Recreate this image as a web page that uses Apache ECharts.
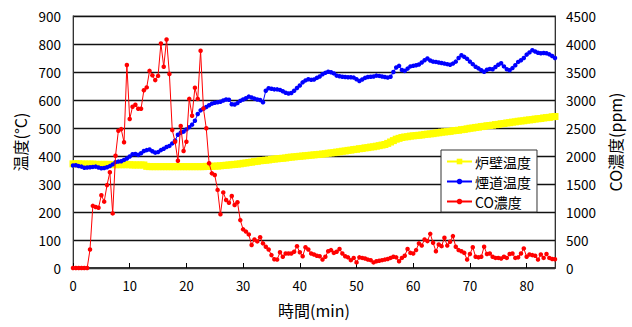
<!DOCTYPE html>
<html>
<head>
<meta charset="utf-8">
<script src="https://cdn.jsdelivr.net/npm/echarts@6/dist/echarts.min.js"></script>
<style>
html,body{margin:0;padding:0;background:#fff;}
#chart{width:632px;height:327px;}
</style>
</head>
<body>
<div id="chart"></div>
<script>
// sampling interval of the measurements (min)
const TIME_STEP = 0.5;

// 炉壁温度 (°C), every 0.5 min from 0 to 85
const wallTemp = [
  372,372,372,371,371,371,371,371,370,370,
  370,370,370,370,369,369,369,369,369,369,
  369,368,368,368,368,368,363,362,362,362,
  362,362,362,362,362,362,362,362,362,362,
  362,362,362,362,362,362,362,363,363,363,
  364,364,365,366,367,368,369,370,371,372,
  374,375,377,378,380,381,383,384,385,386,
  388,389,390,391,392,393,395,396,397,398,
  399,400,401,402,403,404,405,406,407,408,
  410,411,412,414,415,417,418,420,421,423,
  424,426,427,429,430,432,433,435,437,439,
  441,445,450,455,460,463,466,468,469,471,
  472,473,474,475,477,478,479,480,482,483,
  485,486,487,488,490,491,492,494,495,497,
  499,500,502,503,505,506,508,509,510,512,
  513,515,516,518,519,521,522,524,525,526,
  528,529,530,532,533,534,536,537,538,540,
  541
];

// 煙道温度 (°C)
const flueTemp = [
  366,367,364,362,358,359,360,361,362,359,
  356,357,360,364,370,378,380,381,386,391,
  398,406,407,404,410,418,421,423,417,412,
  414,421,426,432,436,445,455,476,483,487,
  495,503,512,526,550,563,569,575,581,587,
  590,592,594,598,602,601,585,584,589,597,
  602,606,612,609,605,602,600,592,633,642,
  640,638,638,636,631,626,623,625,633,643,
  652,663,670,674,672,673,679,684,692,697,
  701,699,695,687,685,683,682,681,681,680,
  674,668,673,679,682,683,684,687,686,684,
  682,680,683,700,716,722,707,704,712,720,
  722,724,727,734,742,748,741,737,736,734,
  732,730,728,726,730,737,750,760,754,747,
  737,728,719,713,706,701,708,711,710,718,
  726,731,720,710,706,714,724,736,742,750,
  762,770,778,773,769,767,768,767,763,757,
  750
];

// CO濃度 (ppm)
const coConc = [
  0,0,0,0,0,0,330,1110,1090,1075,
  1300,1185,1480,1710,975,2005,2450,2480,2245,3625,
  2660,2880,2915,2845,2845,3175,3225,3520,3440,3355,
  3430,4010,3595,4080,3465,2465,2255,1915,2535,2090,
  2255,3020,2720,3220,3020,3880,2850,2495,1870,1690,
  1660,1395,960,1350,1215,1165,1285,1125,1175,855,
  690,650,600,410,510,475,550,440,380,330,
  230,155,150,280,200,260,260,260,290,390,
  280,210,370,330,260,240,220,210,150,200,
  300,320,270,290,340,260,210,190,140,180,
  100,190,180,170,150,140,100,120,130,140,
  150,160,180,200,190,120,180,220,340,270,
  260,320,440,400,510,480,610,450,300,420,
  390,540,400,470,570,380,320,300,270,150,
  250,370,200,190,200,380,250,260,200,180,
  180,170,200,180,250,260,180,190,260,350,
  200,240,230,220,150,240,180,250,180,160,
  155
];

const seriesNames = ['炉壁温度', '煙道温度', 'CO濃度'];
const xTicks = { min: 0, max: 85, interval: 10 };
const tempTicks = { min: 0, max: 900, interval: 100 };
const coTicks = { min: 0, max: 4500, interval: 500 };

function pairs(arr) { return arr.map((v, i) => [i * TIME_STEP, v]); }

const FONT = '"Noto Sans CJK JP", "Noto Sans", sans-serif';
const chart = echarts.init(document.getElementById('chart'), null, { renderer: 'svg' });

chart.setOption({
  animation: false,
  backgroundColor: '#fff',
  textStyle: { fontFamily: FONT },
  grid: { left: 73, right: 77, top: 16, bottom: 59, show: true, borderColor: '#8a8a8a', borderWidth: 1.2 },
  legend: {
    orient: 'vertical',
    left: 441, top: 150,
    data: seriesNames,
    backgroundColor: '#fff',
    borderColor: '#333',
    borderWidth: 1,
    borderRadius: 0,
    padding: [4, 6, 3, 5],
    itemWidth: 25, itemHeight: 7,
    itemGap: 5,
    z: 10,
    textStyle: { fontFamily: FONT, fontSize: 14, color: '#000', lineHeight: 15, padding: [0, 0, 0, -2] }
  },
  xAxis: {
    type: 'value',
    min: xTicks.min, max: xTicks.max, interval: xTicks.interval,
    name: '時間(min)', nameLocation: 'middle', nameGap: 34,
    nameTextStyle: { fontFamily: FONT, fontSize: 16, color: '#000' },
    axisLine: { show: true, lineStyle: { color: '#333', width: 2 } },
    axisTick: { show: true, inside: true, length: 5, lineStyle: { color: '#000' } },
    axisLabel: { fontFamily: FONT, fontSize: 13, color: '#000', margin: 11, showMaxLabel: false },
    splitLine: { show: false }
  },
  yAxis: [
    {
      type: 'value',
      min: tempTicks.min, max: tempTicks.max, interval: tempTicks.interval,
      name: '温度(°C)', nameLocation: 'middle', nameGap: 38, nameRotate: 90,
      nameTextStyle: { fontFamily: FONT, fontSize: 16, color: '#000' },
      axisLine: { show: true, lineStyle: { color: '#333', width: 1 } },
      axisTick: { show: false },
      axisLabel: { fontFamily: FONT, fontSize: 13.5, color: '#000', margin: 12, formatter: v => String(v) },
      splitLine: { show: true, lineStyle: { color: '#111', width: 1.3 } }
    },
    {
      type: 'value',
      min: coTicks.min, max: coTicks.max, interval: coTicks.interval,
      name: 'CO濃度(ppm)', nameLocation: 'middle', nameGap: 44, nameRotate: 90,
      nameTextStyle: { fontFamily: FONT, fontSize: 16, color: '#000' },
      axisLine: { show: true, lineStyle: { color: '#333', width: 1 } },
      axisTick: { show: false },
      axisLabel: { fontFamily: FONT, fontSize: 13.5, color: '#000', margin: 11, formatter: v => String(v) },
      splitLine: { show: false }
    }
  ],
  series: [
    {
      name: seriesNames[0], type: 'line', yAxisIndex: 0,
      data: pairs(wallTemp),
      symbol: 'rect', symbolSize: 7, showAllSymbol: true,
      itemStyle: { color: '#ffff00' },
      lineStyle: { color: '#ffff00', width: 1 },
      z: 2
    },
    {
      name: seriesNames[1], type: 'line', yAxisIndex: 0,
      data: pairs(flueTemp),
      symbol: 'circle', symbolSize: 4.5, showAllSymbol: true,
      itemStyle: { color: '#0000ff' },
      lineStyle: { color: '#0000ff', width: 1 },
      z: 3
    },
    {
      name: seriesNames[2], type: 'line', yAxisIndex: 1,
      data: pairs(coConc),
      symbol: 'circle', symbolSize: 4.5, showAllSymbol: true,
      itemStyle: { color: '#ff0000' },
      lineStyle: { color: '#ff0000', width: 1 },
      z: 4
    }
  ]
});
</script>
</body>
</html>
